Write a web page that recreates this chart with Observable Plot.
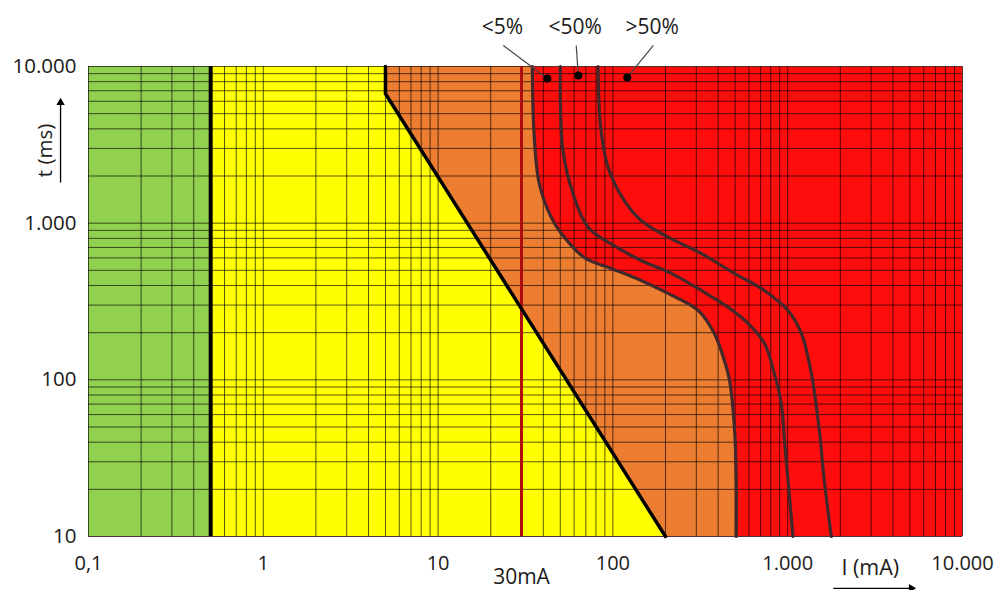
<!DOCTYPE html>
<html><head><meta charset="utf-8">
<script src="https://cdn.jsdelivr.net/npm/d3@7"></script>
<script src="https://cdn.jsdelivr.net/npm/@observablehq/plot@0.6"></script>
<style>body{margin:0;background:#fff;font-family:"Open Sans",sans-serif}</style>
</head><body><div id="chart"></div>
<script>
// Axis ticks (European number format)
const xTicks = [0.1, 1, 10, 100, 1000, 10000];
const xTickLabels = ["0,1", "1", "10", "100", "1.000", "10.000"];
const yTicks = [10, 100, 1000, 10000];
const yTickLabels = ["10", "100", "1.000", "10.000"];

// Zone limits (mA)
const perceptionLimit = 0.5;
const threshold30 = 30;

// Curve b (boundary yellow / orange)
const bI = [5, 5, 200];
const bT = [10000, 6700, 10];

// Curve c1 (<5%)
const c1I = [34.6, 35.4, 37.9, 44.4, 50.7, 68.6, 97.9, 145, 207, 308, 380, 434, 465, 497, 508, 508];
const c1T = [10000, 3735, 1792, 1088, 859, 604, 514, 431, 356, 277, 198, 133, 99, 47.5, 22.8, 10];
// Curve c2 (<50%)
const c2I = [50, 51.8, 59.1, 72.1, 105, 145, 216, 320, 455, 593, 735, 838, 919, 960, 1004, 1072];
const c2T = [10000, 2911, 1548, 943, 703, 578, 478, 372, 291, 229, 171, 110, 70, 40, 22.8, 10];
// Curve c3 (>50%)
const c3I = [82.2, 85.1, 93.8, 116, 145, 207, 320, 495, 735, 1004, 1197, 1365, 1517, 1619, 1776];
const c3T = [10000, 4100, 2277, 1396, 1040, 814, 641, 478, 372, 277, 198, 110, 47.5, 22.8, 10];

// Annotations
const curveLabels = ["<5%", "<50%", ">50%"];
const curveLabelI = [23.3, 60.9, 168];
const curveLabelT = [17740, 17740, 17740];
const leaderI = [23.6, 61.7, 170.4];
const leaderT = [13620, 13620, 13620];
const markerI = [42.2, 63.4, 120.9];
const markerT = [8380, 8760, 8508];

const xAxisTitle = "I (mA)";
const xAxisTitleI = 2969, xAxisTitleT = 6.26;
const xArrowI = [1824, 5095], xArrowT = 4.67;
const yAxisTitle = "t (ms)";
const yAxisTitleI = 0.0566, yAxisTitleT = 2911;
const yArrowI = 0.0692, yArrowT = [1818, 5892];
const thresholdLabel = "30mA";

const rows = (I, T) => I.map((d, i) => ({I: d, t: T[i]}));
const c1 = rows(c1I, c1T), c2 = rows(c2I, c2T), c3 = rows(c3I, c3T), b = rows(bI, bT);
const decades = [0.1, 1, 10, 100, 1000];
const gridX = decades.flatMap(d => [1,2,3,4,5,6,7,8,9].map(k => k * d)).concat([10000]);
const gridY = [10, 100, 1000].flatMap(d => [1,2,3,4,5,6,7,8,9].map(k => k * d)).concat([10000]);

const labelsData = curveLabels.map((s, i) => ({s, I: curveLabelI[i], t: curveLabelT[i], I2: leaderI[i], t2: leaderT[i], I3: markerI[i], t3: markerT[i]}));

const curveColor = "#43282b";

const chart = Plot.plot({
  width: 995, height: 590,
  marginTop: 66, marginRight: 33, marginBottom: 54, marginLeft: 88,
  x: {type: "log", domain: [0.1, 10000]},
  y: {type: "log", domain: [10, 10000]},
  style: {fontFamily: "'Open Sans', sans-serif", fontSize: "20px", color: "#1a1a1a", background: "white"},
  marks: [
    Plot.frame({fill: "#ff0d0d"}),
    Plot.areaX(c1, {y: "t", x1: 0.1, x2: "I", fill: "#ed7d31", curve: "catmull-rom"}),
    Plot.areaX(b, {y: "t", x1: 0.1, x2: "I", fill: "#ffff00"}),
    Plot.rect([0], {x1: 0.1, x2: perceptionLimit, y1: 10, y2: 10000, fill: "#92d050"}),
    Plot.ruleX(gridX, {stroke: "#000", strokeOpacity: 0.65, strokeWidth: 1}),
    Plot.ruleY(gridY, {stroke: "#000", strokeOpacity: 0.65, strokeWidth: 1}),
    Plot.ruleX([threshold30], {stroke: "#b00d0d", strokeWidth: 3}),
    Plot.line(c1, {x: "I", y: "t", curve: "catmull-rom", stroke: curveColor, strokeWidth: 3.2}),
    Plot.line(c2, {x: "I", y: "t", curve: "catmull-rom", stroke: curveColor, strokeWidth: 3.2}),
    Plot.line(c3, {x: "I", y: "t", curve: "catmull-rom", stroke: curveColor, strokeWidth: 3.2}),
    Plot.line(b, {x: "I", y: "t", stroke: "#000", strokeWidth: 3.5}),
    Plot.ruleX([perceptionLimit], {stroke: "#000", strokeWidth: 4}),
    Plot.axisX({ticks: xTicks, tickFormat: d => xTickLabels[xTicks.indexOf(d)], tickSize: 0, tickPadding: 19, label: null, fontSize: 20}),
    Plot.axisY({ticks: yTicks, tickFormat: d => yTickLabels[yTicks.indexOf(d)], tickSize: 0, tickPadding: 12, label: null, fontSize: 20.5}),
    // curve labels with leaders
    Plot.link(labelsData, {x1: "I2", y1: "t2", x2: "I3", y2: "t3", stroke: "#444", strokeWidth: 1.2}),
    Plot.dot(labelsData, {x: "I3", y: "t3", r: 4, fill: "#000"}),
    Plot.text(labelsData, {x: "I", y: "t", text: "s", fontSize: 21, fill: "#1a1a1a"}),
    // threshold label
    Plot.text([threshold30], {x: d => d, text: () => thresholdLabel, frameAnchor: "bottom", dy: 47, fontSize: 21, fill: "#1a1a1a"}),
    // axis titles with arrows
    Plot.text([xAxisTitle], {x: () => xAxisTitleI, y: () => xAxisTitleT, text: d => d, fontSize: 21.5, fill: "#1a1a1a"}),
    Plot.link([0], {x1: () => xArrowI[0], x2: () => xArrowI[1], y1: () => xArrowT, y2: () => xArrowT, stroke: "#000", strokeWidth: 1.3}),
    Plot.dot([0], {x: () => xArrowI[1], y: () => xArrowT, symbol: "triangle2", r: 4, rotate: 90, fill: "#000"}),
    Plot.text([yAxisTitle], {x: () => yAxisTitleI, y: () => yAxisTitleT, text: d => d, rotate: -90, fontSize: 20.5, fill: "#1a1a1a"}),
    Plot.link([0], {x1: () => yArrowI, x2: () => yArrowI, y1: () => yArrowT[0], y2: () => yArrowT[1], stroke: "#000", strokeWidth: 1.3}),
    Plot.dot([0], {x: () => yArrowI, y: () => yArrowT[1], symbol: "triangle2", r: 4, fill: "#000"})
  ]
});
document.getElementById("chart").appendChild(chart);
</script>
</body></html>
